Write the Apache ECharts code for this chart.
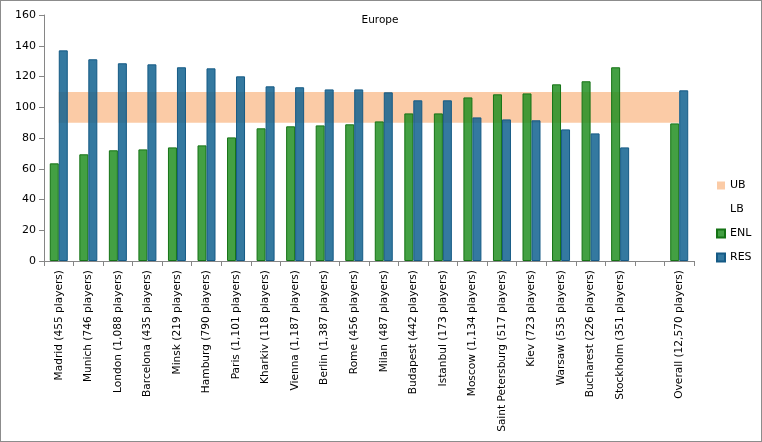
<!DOCTYPE html>
<html>
<head>
<meta charset="utf-8">
<script src="https://cdn.jsdelivr.net/npm/echarts@6/dist/echarts.min.js"></script>
<style>
html,body{margin:0;padding:0;background:#fff;}
#c{width:762px;height:442px;box-sizing:border-box;border:1px solid #8c8c8c;}
</style>
</head>
<body>
<div id="c"></div>
<script>
const categories = [
  "Madrid (455 players)", "Munich (746 players)", "London (1,088 players)",
  "Barcelona (435 players)", "Minsk (219 players)", "Hamburg (790 players)",
  "Paris (1,101 players)", "Kharkiv (118 players)", "Vienna (1,187 players)",
  "Berlin (1,387 players)", "Rome (456 players)", "Milan (487 players)",
  "Budapest (442 players)", "Istanbul (173 players)", "Moscow (1,134 players)",
  "Saint Petersburg (517 players)", "Kiev (723 players)", "Warsaw (535 players)",
  "Bucharest (226 players)", "Stockholm (351 players)", "", "Overall (12,570 players)"
];
const enl = [63.5, 69.4, 72.0, 72.6, 73.9, 75.2, 80.4, 86.3, 87.6, 88.2, 88.9, 90.8,
  96.0, 96.0, 106.4, 108.4, 109.0, 114.9, 116.9, 126.0, null, 89.5];
const res = [137.0, 131.2, 128.6, 127.9, 126.0, 125.3, 120.1, 113.6, 113.0, 111.6, 111.6, 109.7,
  104.5, 104.5, 93.4, 92.1, 91.5, 85.6, 83.0, 73.9, null, 111.0];
const lb = [90, 90, 90, 90, 90, 90, 90, 90, 90, 90, 90, 90, 90, 90, 90, 90, 90, 90, 90, 90, 90, 90];
const ubWidth = [20, 20, 20, 20, 20, 20, 20, 20, 20, 20, 20, 20, 20, 20, 20, 20, 20, 20, 20, 20, 20, 20];
const yTicks = {min: 0, max: 160, interval: 20};
</script>
<script>
const FONT = "DejaVu Sans";
const chart = echarts.init(document.getElementById('c'), null, {renderer: 'canvas'});
chart.setOption({
  animation: false,
  title: {
    text: 'Europe', left: 379, top: 14, textAlign: 'center', padding: 0,
    textStyle: {fontFamily: FONT, fontSize: 10.5, fontWeight: 'normal', color: '#000'}
  },
  legend: {
    orient: 'vertical', left: 710, top: 174, itemWidth: 8, itemHeight: 8, itemGap: 13,
    textStyle: {fontFamily: FONT, fontSize: 11, color: '#000'},
    data: [
      {name: 'UB', icon: 'rect'},
      {name: 'LB', icon: 'rect', itemStyle: {opacity: 0}},
      {name: 'ENL', icon: 'rect'},
      {name: 'RES', icon: 'rect'}
    ]
  },
  grid: {left: 43, right: 67, top: 14, bottom: 180, containLabel: false},
  xAxis: {
    type: 'category', data: categories, boundaryGap: true,
    axisLine: {lineStyle: {color: '#868686'}},
    axisTick: {show: true, alignWithLabel: false, length: 5, lineStyle: {color: '#868686'}},
    axisLabel: {rotate: 90, interval: 0, margin: 9, fontFamily: FONT, fontSize: 10.6, color: '#000'},
    splitLine: {show: false}
  },
  yAxis: {
    type: 'value', min: yTicks.min, max: yTicks.max, interval: yTicks.interval,
    axisLine: {show: true, lineStyle: {color: '#868686'}},
    axisTick: {show: true, length: 5, lineStyle: {color: '#868686'}},
    axisLabel: {fontFamily: FONT, fontSize: 11, color: '#000', margin: 8},
    splitLine: {show: false}
  },
  series: [
    {
      name: 'LB', type: 'line', stack: 'band', data: lb, symbol: 'none',
      lineStyle: {width: 0, opacity: 0}, areaStyle: {opacity: 0}, itemStyle: {color: 'rgba(0,0,0,0)'},
      z: 1, silent: true
    },
    {
      name: 'UB', type: 'line', stack: 'band', data: ubWidth, symbol: 'none',
      lineStyle: {width: 0, opacity: 0}, areaStyle: {color: '#fbcba6', opacity: 1}, itemStyle: {color: '#fbcba6'},
      z: 1, silent: true
    },
    {
      name: 'ENL', type: 'bar', data: enl, barWidth: 9, barGap: '0%',
      itemStyle: {color: 'rgba(34,143,34,0.85)', borderColor: '#157315', borderWidth: 1},
      z: 2
    },
    {
      name: 'RES', type: 'bar', data: res, barWidth: 9, barGap: '0%',
      itemStyle: {color: 'rgba(16,97,143,0.85)', borderColor: '#155a85', borderWidth: 1},
      z: 2
    }
  ]
});
</script>
</body>
</html>
